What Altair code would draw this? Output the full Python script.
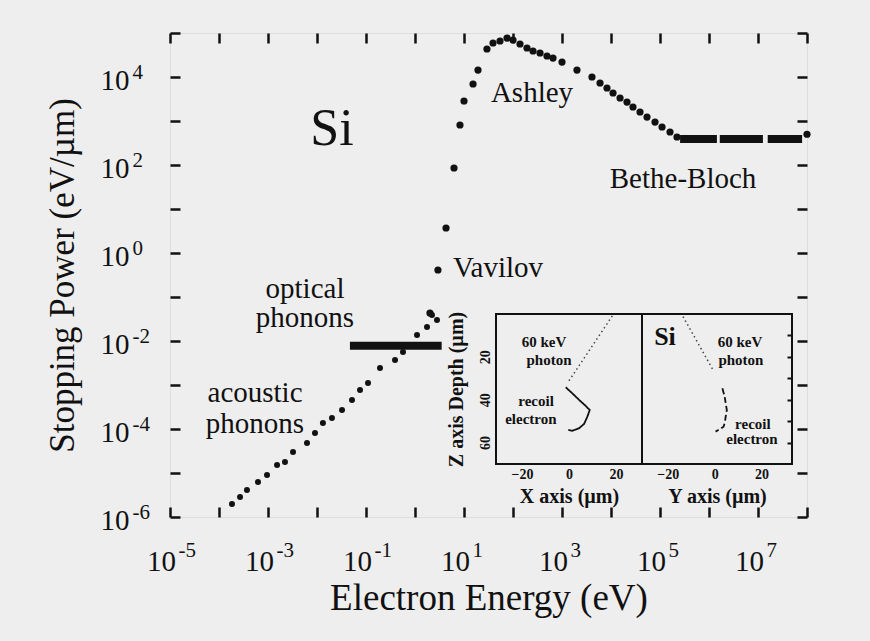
import altair as alt
import pandas as pd

# ---------------- data ----------------
# acoustic phonon branch (energy eV, stopping power eV/um)
ac_energy = [1.84e-4, 2.69e-4, 3.72e-4, 6.25e-4, 9.55e-4, 1.53e-3, 2.22e-3, 3.24e-3,
             6.25e-3, 9.10e-3, 1.32e-2, 2.02e-2, 3.24e-2, 5.18e-2, 7.55e-2, 0.110,
             0.193, 0.391, 0.569, 1.10, 1.76, 2.22, 2.81]
ac_power = [1.97e-6, 2.85e-6, 4.11e-6, 6.24e-6, 9.02e-6, 1.52e-5, 1.78e-5, 3.00e-5,
            4.81e-5, 8.11e-5, 1.37e-4, 1.78e-4, 2.70e-4, 4.56e-4, 7.69e-4, 1.11e-3,
            2.43e-3, 3.70e-3, 5.62e-3, 1.37e-2, 2.08e-2, 3.90e-2, 3.00e-2]

# Vavilov / Ashley / Bethe-Bloch branch
hi_energy = [2.02, 2.94, 4.30, 6.25, 8.28, 10.0, 15.3, 19.3, 29.4, 39.1, 54.3, 75.5,
             100, 139, 193, 256, 356, 494, 655, 1000, 2020, 4090, 5970, 8280,
             11000, 15300, 21200, 28100, 39100, 54300, 79100, 110000, 160000, 222000, 1.0e8]
hi_power = [0.0433, 0.411, 3.70, 85.5, 811, 2850, 6930, 14400, 43300, 59300, 65800, 76900,
            69300, 56200, 45600, 39000, 35100, 30000, 27000, 21900, 14400, 10000, 7310, 5620,
            4330, 3330, 2700, 2080, 1600, 1230, 948, 731, 562, 433, 500]

# optical phonon plateau and Bethe-Bloch plateau segments
seg_start = [0.047, 2.57e5, 1.66e6, 1.58e7]
seg_end = [3.5, 1.45e6, 1.26e7, 7.94e7]
seg_power = [0.0078, 390, 390, 390]

# annotations (text, energy, stopping power)
ann_text = ["Si", "Ashley", "Bethe-Bloch", "Vavilov", "optical", "phonons", "acoustic", "phonons"]
ann_energy = [0.0202, 244, 2.95e5, 49.4, 5.69e-3, 5.69e-3, 5.43e-4, 5.43e-4]
ann_power = [285, 2690, 30.2, 0.285, 0.0948, 0.0208, 4.11e-4, 8.13e-5]

# inset: tracks (um)
il_photon_x = [18.4, -0.7]
il_photon_z = [0.9, 32.3]
il_elec_x = [-1.4, 1.4, 4.3, 7.1, 8.8, 7.8, 6.4, 4.3, 1.4, -0.3]
il_elec_z = [34.2, 37.0, 40.1, 42.9, 44.8, 47.9, 51.3, 53.3, 54.5, 54.1]
ir_photon_y = [-13.5, -0.7]
ir_photon_z = [1.2, 26.1]
ir_elec_y = [3.3, 4.3, 4.7, 5.2, 4.7, 4.4, 3.8, 2.1, 0.4]
ir_elec_z = [34.7, 38.6, 41.7, 44.8, 47.9, 50.3, 52.6, 53.8, 54.9]

il_text = ["60 keV", "photon", "recoil", "electron"]
il_text_x = [-10.6, -8.5, -14.0, -16.2]
il_text_z = [15.4, 23.8, 42.9, 51.3]
ir_text = ["60 keV", "photon", "recoil", "electron"]
ir_text_y = [10.8, 11.2, 16.3, 15.9]
ir_text_z = [15.4, 23.8, 53.7, 60.7]

x_decades = [10.0 ** k for k in range(-5, 9)]
y_decades = [10.0 ** k for k in range(-6, 6)]
x_labels = [10.0 ** k for k in range(-5, 8, 2)]
y_labels = [10.0 ** k for k in range(-6, 5, 2)]

# ---------------- layout ----------------
W, H = 637, 484
INK = "#111111"
FONT = "Liberation Serif"
EXP = "toString(round(log(datum.value)/LN10))"


def sx():
    return alt.Scale(type="log", domain=[1e-5, 1e8], nice=False)


def sy():
    return alt.Scale(type="log", domain=[1e-6, 1e5], nice=False)


def s_il():
    return alt.Scale(domain=[-31, 31], range=[326, 472], nice=False, zero=False)


def s_ir():
    return alt.Scale(domain=[-31, 33], range=[472, 622], nice=False, zero=False)


def s_iz():
    return alt.Scale(domain=[0, 70], range=[281, 431], nice=False, zero=False)


ac_df = pd.DataFrame({"E": ac_energy, "S": ac_power})
hi_df = pd.DataFrame({"E": hi_energy, "S": hi_power})
seg_df = pd.DataFrame({"E0": seg_start, "E1": seg_end, "S": seg_power})
ann_df = pd.DataFrame({"t": ann_text, "E": ann_energy, "S": ann_power})
all_df = pd.concat([ac_df, hi_df], ignore_index=True)

tick_axis = dict(labels=False, domain=False, grid=False, tickSize=10, tickWidth=2.5,
                 tickColor=INK, title=None)
lab_axis = dict(ticks=False, tickSize=0, domain=False, grid=False, labelColor=INK,
                labelFont=FONT, labelBaseline="alphabetic")

# main points; carry the "10" part of the labels and the axis titles
pts_ac = alt.Chart(ac_df).mark_circle(color=INK, opacity=1, size=36).encode(
    x=alt.X("E:Q", scale=sx(), axis=alt.Axis(
        values=x_labels, labelExpr="'10'", labelFontSize=29, labelPadding=53,
        labelAlign="center", labelOffset=-9,
        title="Electron Energy (eV)", titleFont=FONT,
        titleFontSize=37, titleFontWeight="normal", titleColor=INK, titleY=92,
        titleBaseline="alphabetic", **lab_axis)),
    y=alt.Y("S:Q", scale=sy(), axis=alt.Axis(
        values=y_labels, labelExpr="'10'", labelFontSize=29, labelPadding=70,
        labelAlign="left", labelOffset=12,
        title="Stopping Power (eV/\u00b5m)", titleFont=FONT,
        titleFontSize=35, titleFontWeight="normal", titleColor=INK, titleX=-97,
        titleBaseline="alphabetic", **lab_axis)),
)

# exponent part of the tick labels
exps = alt.Chart(all_df).mark_point(opacity=0).encode(
    x=alt.X("E:Q", scale=sx(), axis=alt.Axis(
        orient="bottom", values=x_labels, labelExpr=EXP, labelFontSize=21,
        labelPadding=39, labelAlign="left", labelOffset=8, title=None, **lab_axis)),
    y=alt.Y("S:Q", scale=sy(), axis=alt.Axis(
        orient="left", values=y_labels, labelExpr=EXP, labelFontSize=21,
        labelPadding=38, labelAlign="left", labelOffset=1, title=None, **lab_axis)),
)

pts_hi = alt.Chart(hi_df).mark_circle(color=INK, opacity=1, size=52).encode(
    x=alt.X("E:Q", scale=sx(), axis=None),
    y=alt.Y("S:Q", scale=sy(), axis=None),
)

ticks_a = alt.Chart(all_df).mark_point(opacity=0).encode(
    x=alt.X("E:Q", scale=sx(), axis=alt.Axis(orient="top", offset=-H, values=x_decades, **tick_axis)),
    y=alt.Y("S:Q", scale=sy(), axis=alt.Axis(orient="right", offset=-W, values=y_decades, **tick_axis)),
)
ticks_b = alt.Chart(all_df).mark_point(opacity=0).encode(
    x=alt.X("E:Q", scale=sx(), axis=alt.Axis(orient="bottom", offset=-H, values=x_decades, **tick_axis)),
    y=alt.Y("S:Q", scale=sy(), axis=alt.Axis(orient="left", offset=-W, values=y_decades, **tick_axis)),
)

segs = alt.Chart(seg_df).mark_rule(color=INK, strokeWidth=8, strokeCap="butt").encode(
    x=alt.X("E0:Q", scale=sx(), axis=None),
    x2="E1:Q",
    y=alt.Y("S:Q", scale=sy(), axis=None),
)


def ann_layer(idx, size):
    d = ann_df.iloc[idx].reset_index(drop=True)
    return alt.Chart(d).mark_text(font=FONT, fontSize=size, color=INK, align="center",
                                  baseline="alphabetic").encode(
        x=alt.X("E:Q", scale=sx(), axis=None),
        y=alt.Y("S:Q", scale=sy(), axis=None),
        text="t:N",
    )


ann_si = ann_layer([0], 52)
ann_rest = ann_layer([1, 2, 3, 4, 5, 6, 7], 29)

# ---------------- inset ----------------
frame_df = pd.DataFrame({"a": [-31], "b": [31], "c": [-31], "d": [33], "z0": [0], "z1": [70]})
small_axis = dict(grid=False, domain=False, tickSize=0, labelFont=FONT, labelFontSize=14,
                  labelFontWeight="bold", labelColor=INK, titleFont=FONT, titleFontSize=20,
                  titleFontWeight="bold", titleColor=INK)

frame_l = alt.Chart(frame_df).mark_rect(fillOpacity=0, stroke=INK, strokeWidth=2).encode(
    x=alt.X("a:Q", scale=s_il(), axis=alt.Axis(
        orient="bottom", offset=-53, values=[-20, 0, 20], labelPadding=3,
        title="X axis (\u00b5m)", titleY=38, titleBaseline="alphabetic", **small_axis)),
    x2="b:Q",
    y=alt.Y("z0:Q", scale=s_iz(), axis=alt.Axis(
        orient="left", offset=-326, values=[20, 40, 60], labelAngle=270, labelAlign="center",
        labelBaseline="bottom", labelPadding=4, title="Z axis Depth (\u00b5m)", titleX=-34,
        titleBaseline="alphabetic", **small_axis)),
    y2="z1:Q",
)
frame_r = alt.Chart(frame_df).mark_rect(fillOpacity=0, stroke=INK, strokeWidth=2).encode(
    x=alt.X("c:Q", scale=s_ir(), axis=alt.Axis(
        orient="bottom", offset=-53, values=[-20, 0, 20], labelPadding=3,
        title="Y axis (\u00b5m)", titleY=38, titleBaseline="alphabetic", **small_axis)),
    x2="d:Q",
    y=alt.Y("z0:Q", scale=s_iz(), axis=alt.Axis(
        orient="left", offset=-622, values=[10, 20, 30, 40, 50, 60], labels=False,
        domain=False, grid=False, tickSize=5, tickWidth=2, tickColor=INK, title=None)),
    y2="z1:Q",
)


def track(xs, zs, scale, dash, width, color):
    d = pd.DataFrame({"u": xs, "z": zs, "i": list(range(len(xs)))})
    return alt.Chart(d).mark_line(color=color, strokeWidth=width, strokeDash=dash).encode(
        x=alt.X("u:Q", scale=scale, axis=None),
        y=alt.Y("z:Q", scale=s_iz(), axis=None),
        order="i:O",
    )


ph_l = track(il_photon_x, il_photon_z, s_il(), [1.5, 3], 1.5, "#444444")
el_l = track(il_elec_x, il_elec_z, s_il(), [1, 0], 1.8, INK)
ph_r = track(ir_photon_y, ir_photon_z, s_ir(), [1.5, 3], 1.5, "#444444")
el_r = track(ir_elec_y, ir_elec_z, s_ir(), [6, 3], 1.8, INK)


def inset_text(txt, xs, zs, scale, size):
    d = pd.DataFrame({"t": txt, "u": xs, "z": zs})
    return alt.Chart(d).mark_text(font=FONT, fontSize=size, fontWeight="bold", color=INK,
                                  align="center", baseline="alphabetic").encode(
        x=alt.X("u:Q", scale=scale, axis=None),
        y=alt.Y("z:Q", scale=s_iz(), axis=None),
        text="t:N",
    )


txt_l = inset_text(il_text, il_text_x, il_text_z, s_il(), 15)
txt_r = inset_text(ir_text, ir_text_y, ir_text_z, s_ir(), 15)
si_r = inset_text(["Si"], [-21.2], [14.5], s_ir(), 26)

chart = alt.layer(
    pts_ac, exps, pts_hi, ticks_a, ticks_b, segs, ann_si, ann_rest,
    frame_l, frame_r, ph_l, el_l, ph_r, el_r, txt_l, txt_r, si_r,
).resolve_scale(x="independent", y="independent").resolve_axis(
    x="independent", y="independent"
).properties(
    width=W, height=H,
    autosize=alt.AutoSizeParams(type="none"),
    padding={"left": 170, "top": 33, "right": 63, "bottom": 124},
    background="#eeeeee",
).configure_view(stroke=INK, strokeWidth=3).configure(font=FONT)

chart.save("out.html", embed_options={"renderer": "svg", "actions": False})
